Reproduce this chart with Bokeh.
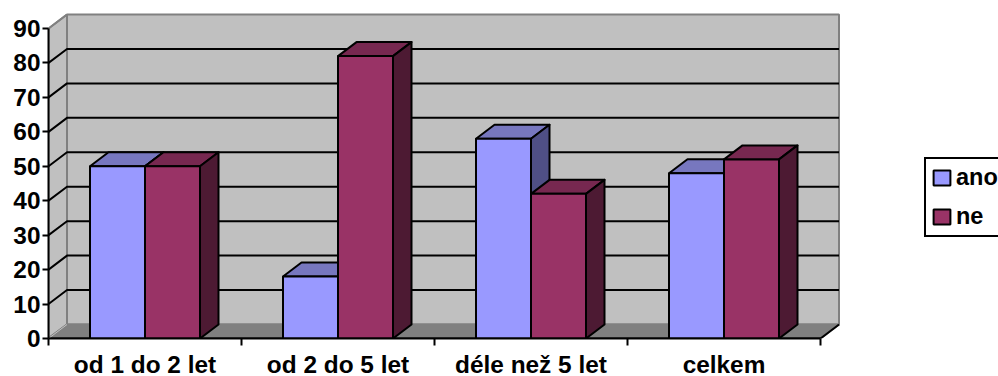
from bokeh.embed import file_html
from bokeh.models import FixedTicker, Legend, LegendItem, Range1d
from bokeh.plotting import figure
from bokeh.resources import INLINE

categories = ["od 1 do 2 let", "od 2 do 5 let", "déle než 5 let", "celkem"]
ano = [50, 18, 58, 48]
ne = [50, 82, 42, 52]
y_ticks = [0, 10, 20, 30, 40, 50, 60, 70, 80, 90]

# Scale factors: 193 px per category, 3.444 px per percentage point.
PX_X = 193.0
PX_Y = 3.444
DEPTH_X = 18.5 / PX_X
DEPTH_Y = 14.0 / PX_Y
BAR_W = 55.0 / PX_X
GAP = (1 - 2 * BAR_W) / 2
N = len(categories)
Y_MAX = y_ticks[-1]

FONT = "Liberation Sans"
FONT_SIZE = "24.4px"
INK = "#000000"
WALL = "#C0C0C0"
WALL_EDGE = "#808080"

p = figure(
    width=998, height=376, output_backend="svg", toolbar_location=None,
    x_range=Range1d(0, 950 / PX_X), y_range=Range1d(0, 338 / PX_Y),
    min_border_left=48, min_border_right=0, min_border_top=0, min_border_bottom=38,
    frame_width=950, frame_height=338,
    background_fill_color="white", border_fill_color="white", outline_line_color=None,
)
p.xgrid.visible = False
p.ygrid.visible = False

# Axes
y_axis = p.yaxis[0]
y_axis.ticker = FixedTicker(ticks=y_ticks)
y_axis.bounds = (0, Y_MAX)
y_axis.axis_line_color = INK
y_axis.axis_line_width = 2
y_axis.major_tick_line_color = INK
y_axis.major_tick_line_width = 2
y_axis.major_tick_out = 6
y_axis.major_tick_in = 0
y_axis.minor_tick_line_color = None
y_axis.major_label_standoff = 2
y_axis.major_label_text_font = FONT
y_axis.major_label_text_font_style = "bold"
y_axis.major_label_text_font_size = FONT_SIZE
y_axis.major_label_text_color = INK

x_axis = p.xaxis[0]
x_axis.ticker = FixedTicker(ticks=[i + 0.5 for i in range(N)], minor_ticks=list(range(N + 1)))
x_axis.major_label_overrides = {i + 0.5: c for i, c in enumerate(categories)}
x_axis.bounds = (0, N)
x_axis.axis_line_color = INK
x_axis.axis_line_width = 2
x_axis.major_tick_line_color = None
x_axis.major_tick_out = 0
x_axis.major_tick_in = 0
x_axis.minor_tick_line_color = INK
x_axis.minor_tick_line_width = 2
x_axis.minor_tick_out = 7
x_axis.minor_tick_in = 0
x_axis.major_label_standoff = 5
x_axis.major_label_text_font = FONT
x_axis.major_label_text_font_style = "bold"
x_axis.major_label_text_font_size = FONT_SIZE
x_axis.major_label_text_color = INK

# Chart box: back wall, side wall, floor
p.patch([DEPTH_X, DEPTH_X + N, DEPTH_X + N, DEPTH_X],
        [DEPTH_Y, DEPTH_Y, DEPTH_Y + Y_MAX, DEPTH_Y + Y_MAX],
        fill_color=WALL, line_color=WALL_EDGE, line_width=2)
p.patch([0, DEPTH_X, DEPTH_X, 0], [0, DEPTH_Y, DEPTH_Y + Y_MAX, Y_MAX],
        fill_color=WALL, line_color=WALL_EDGE, line_width=2)
p.patch([0, N, N + DEPTH_X, DEPTH_X], [0, 0, DEPTH_Y, DEPTH_Y],
        fill_color=WALL_EDGE, line_color=WALL_EDGE, line_width=2)

# Gridlines run along the side wall and across the back wall
grid = y_ticks[1:-1]
p.multi_line([[0, DEPTH_X, DEPTH_X + N] for _ in grid],
             [[v, v + DEPTH_Y, v + DEPTH_Y] for v in grid],
             line_color=INK, line_width=2)
p.line([0, DEPTH_X], [Y_MAX, Y_MAX + DEPTH_Y], line_color=WALL_EDGE, line_width=2)
p.line([0, N], [0, 0], line_color=INK, line_width=2)
p.line([N, N + DEPTH_X], [0, DEPTH_Y], line_color=INK, line_width=2)
p.line([0, DEPTH_X], [0, DEPTH_Y], line_color=WALL, line_width=1)


def bar(x, v, front, top, side):
    """Draw one extruded column whose front face starts at x with height v."""
    r = x + BAR_W
    p.patch([x, x + DEPTH_X, r + DEPTH_X, r], [v, v + DEPTH_Y, v + DEPTH_Y, v],
            fill_color=top, line_color=INK, line_width=2, line_join="round")
    p.patch([r, r + DEPTH_X, r + DEPTH_X, r], [0, DEPTH_Y, v + DEPTH_Y, v],
            fill_color=side, line_color=INK, line_width=2, line_join="round")
    return p.quad(left=[x], right=[r], bottom=[0], top=[v],
                  fill_color=front, line_color=INK, line_width=2)


ano_r = ne_r = None
for i in range(N):
    ano_r = bar(i + GAP, ano[i], "#9999FF", "#7777BF", "#4F4F85")
    ne_r = bar(i + GAP + BAR_W, ne[i], "#993366", "#772850", "#4D1A33")

legend = Legend(
    items=[LegendItem(label="ano", renderers=[ano_r]), LegendItem(label="ne", renderers=[ne_r])],
    location=(876, 101), orientation="vertical",
    border_line_color=INK, border_line_width=2, border_line_alpha=1,
    background_fill_color="white", background_fill_alpha=1,
    glyph_width=21, glyph_height=19, label_standoff=4, padding=5, spacing=12, margin=0,
    label_text_font=FONT, label_text_font_style="bold", label_text_font_size="23.5px",
    label_text_color=INK,
)
p.add_layout(legend, "center")

open("out.html", "w").write(file_html(p, INLINE))
